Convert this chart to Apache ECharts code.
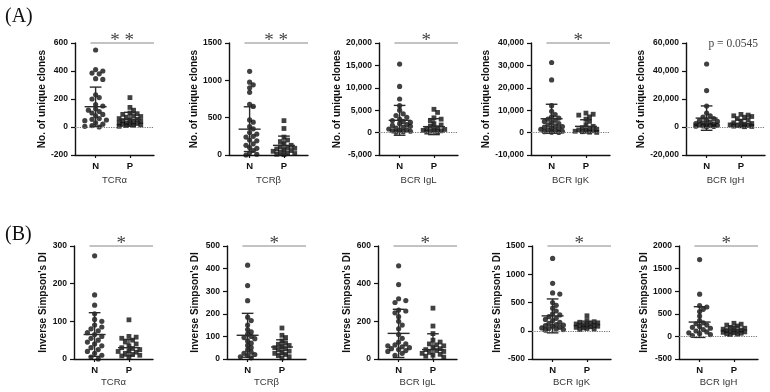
<!DOCTYPE html>
<html>
<head>
<meta charset="utf-8">
<script src="https://cdn.jsdelivr.net/npm/echarts@6/dist/echarts.min.js"></script>
<style>
  html, body { margin: 0; background: #fff; }
  #main { width: 770px; height: 392px; }
</style>
</head>
<body>
<div id="main"></div>
<script>
// groups and panels
const groups = ["N", "P"];
const receptors = ["TCRα", "TCRβ", "BCR IgL", "BCR IgK", "BCR IgH"];
const cloneMarks = ["* *", "* *", "*", "*", "p = 0.0545"];
const diversityMarks = ["*", "*", "*", "*", "*"];

// (A) No. of unique clones
const tcraCloneN = [550, 410, 400, 385, 380, 345, 340, 230, 210, 200, 160, 150, 130, 120, 110, 100, 90, 80, 60, 55, 50, 45, 30, 20, 10, 5, 0];
const tcraCloneP = [210, 140, 120, 100, 95, 90, 80, 75, 70, 60, 55, 50, 45, 40, 35, 30, 28, 25, 20, 18, 15, 12, 10, 5];
const tcrbCloneN = [1120, 975, 940, 900, 840, 680, 650, 470, 440, 380, 350, 300, 280, 250, 240, 200, 190, 150, 130, 100, 90, 60, 30, 10, 0];
const tcrbCloneP = [460, 355, 240, 200, 180, 150, 130, 110, 100, 90, 80, 70, 60, 50, 40, 30, 20, 10, 5];
const iglCloneN = [15300, 10300, 7500, 6000, 5000, 4200, 3800, 3400, 3000, 2700, 2500, 2300, 2000, 1800, 1600, 1400, 1200, 1000, 800, 600, 500, 400, 300, 200, 100];
const iglCloneP = [5200, 4500, 3300, 3000, 2600, 2000, 1700, 1400, 1100, 900, 700, 600, 500, 400, 300, 200, 100];
const igkCloneN = [31300, 23500, 12000, 9500, 8000, 7000, 6500, 6000, 5500, 5000, 4500, 4000, 3500, 3000, 2700, 2400, 2100, 1800, 1500, 1200, 900, 600, 400, 200, 100];
const igkCloneP = [8700, 8200, 7800, 7000, 6000, 5000, 3500, 2800, 2200, 1800, 1500, 1200, 1000, 800, 600, 400, 200, 100];
const ighCloneN = [45000, 26000, 15000, 10000, 8000, 7000, 6000, 5000, 4500, 4000, 3500, 3000, 2500, 2000, 1800, 1500, 1200, 1000, 800, 600, 400, 200];
const ighCloneP = [9000, 8500, 8000, 7500, 7000, 6000, 5000, 4000, 3000, 2500, 2000, 1500, 1200, 1000, 800, 600, 400, 200];
const cloneMeanN = [145, 346, 2740, 6180, 6350];
const cloneSdN = [140, 300, 3330, 6470, 8700];
const cloneMeanP = [55, 129, 1330, 2790, 2590];
const cloneSdP = [50, 124, 1780, 2940, 2800];
const cloneMin = [-200, 0, -5000, -10000, -20000];
const cloneMax = [600, 1500, 20000, 40000, 60000];
const cloneStep = [200, 500, 5000, 10000, 20000];

// (B) Inverse Simpson's DI
const tcraDiN = [274, 170, 143, 120, 105, 100, 90, 85, 80, 75, 70, 65, 60, 55, 50, 45, 40, 35, 30, 25, 20, 15, 10, 5, 0];
const tcraDiP = [104, 60, 58, 55, 50, 45, 40, 35, 30, 28, 25, 22, 20, 18, 15, 12, 10, 8, 5];
const tcrbDiN = [415, 325, 258, 185, 170, 150, 130, 120, 110, 100, 95, 90, 80, 70, 60, 50, 40, 30, 25, 20, 15, 10, 5];
const tcrbDiP = [137, 105, 95, 80, 70, 65, 60, 55, 50, 45, 40, 35, 30, 25, 20, 15, 10, 5];
const iglDiN = [495, 395, 320, 310, 300, 260, 255, 245, 225, 200, 180, 160, 130, 110, 90, 80, 75, 70, 65, 60, 55, 50, 45, 40, 30, 20];
const iglDiP = [270, 175, 135, 100, 90, 80, 75, 70, 60, 55, 50, 45, 40, 35, 30, 25, 20, 15, 10];
const igkDiN = [1280, 840, 670, 650, 500, 450, 400, 350, 300, 280, 250, 220, 200, 180, 150, 130, 110, 100, 90, 80, 60, 50, 40, 30, 20, 10];
const igkDiP = [265, 180, 160, 150, 140, 130, 120, 110, 100, 95, 90, 80, 70, 60, 50, 40, 30, 20];
const ighDiN = [1700, 935, 680, 650, 600, 550, 450, 350, 300, 280, 250, 220, 200, 180, 150, 120, 100, 80, 60, 40, 20];
const ighDiP = [290, 270, 250, 230, 200, 180, 160, 150, 140, 130, 120, 110, 100, 90, 80, 70, 60, 50, 40];
const diMeanN = [65, 105, 136, 263, 317];
const diSdN = [58, 97, 128, 300, 340];
const diMeanP = [30, 53, 50, 110, 148];
const diSdP = [22, 32, 84, 60, 70];
const diMin = [0, 0, 0, -500, -500];
const diMax = [300, 500, 600, 1500, 2000];
const diStep = [100, 100, 200, 500, 500];

// layout
const X_MIN = 0.4, X_MAX = 2.7, GRID_W = 79;
const rowTop = [43, 246];
const rowH = [112, 113];
const lefts = [[75, 229, 379, 531, 686], [74, 227, 378, 532, 679]];
const yNameGap = [[27, 30, 35, 37, 39], [26, 27, 26, 28, 25]];
const xNameGap = [20, 18];
const FONT = '"Liberation Sans", Arial, sans-serif';
const SERIF = '"Liberation Serif", "Times New Roman", serif';

const rows = [
    {
        yName: "No. of unique clones", marks: cloneMarks,
        n: [tcraCloneN, tcrbCloneN, iglCloneN, igkCloneN, ighCloneN],
        p: [tcraCloneP, tcrbCloneP, iglCloneP, igkCloneP, ighCloneP],
        meanN: cloneMeanN, sdN: cloneSdN, meanP: cloneMeanP, sdP: cloneSdP,
        min: cloneMin, max: cloneMax, step: cloneStep
    },
    {
        yName: "Inverse Simpson's DI", marks: diversityMarks,
        n: [tcraDiN, tcrbDiN, iglDiN, igkDiN, ighDiN],
        p: [tcraDiP, tcrbDiP, iglDiP, igkDiP, ighDiP],
        meanN: diMeanN, sdN: diSdN, meanP: diMeanP, sdP: diSdP,
        min: diMin, max: diMax, step: diStep
    }
];

// spread points sideways so they don't overlap too much (simple beeswarm, in pixels)
function swarm(values, center, yMin, yMax, plotH) {
    const unitPx = GRID_W / (X_MAX - X_MIN);
    const r = 4.2, step = 3.6;
    const placed = [];
    const out = [];
    values.slice().sort((a, b) => b - a).forEach(v => {
        const py = (v - yMin) / (yMax - yMin) * plotH;
        let best = 0, bestD = -1;
        for (let k = 0; k < 7; k++) {
            const off = (k % 2 ? 1 : -1) * Math.ceil(k / 2) * step;
            let d = Infinity;
            placed.forEach(q => { d = Math.min(d, Math.hypot(q[0] - off, q[1] - py)); });
            if (d >= r) { best = off; bestD = d; break; }
            if (d > bestD) { bestD = d; best = off; }
        }
        placed.push([best, py]);
        out.push([center + best / unitPx, v]);
    });
    return out;
}

function fmt(v, big) {
    return big ? v.toLocaleString("en-US") : String(v);
}

const chart = echarts.init(document.getElementById("main"));
const grid = [], xAxis = [], yAxis = [], series = [];

rows.forEach((row, r) => {
    receptors.forEach((rec, i) => {
        const g = grid.length;
        const yMin = row.min[i], yMax = row.max[i];
        const big = yMax >= 10000;
        grid.push({ left: lefts[r][i], top: rowTop[r], width: GRID_W, height: rowH[r] });

        xAxis.push({
            gridIndex: g, type: "value", min: X_MIN, max: X_MAX,
            name: rec, nameLocation: "middle", nameGap: xNameGap[r],
            nameTextStyle: { fontFamily: FONT, fontSize: 9.5, color: "#333" },
            axisLine: { onZero: false, lineStyle: { color: "#111", width: 1.4 } },
            axisTick: { show: true, length: 3, customValues: [1, 2], lineStyle: { color: "#111", width: 1.2 } },
            axisLabel: {
                customValues: [1, 2], margin: 6,
                formatter: v => groups[Math.round(v) - 1],
                fontFamily: FONT, fontSize: 9.5, fontWeight: "bold", color: "#111"
            },
            splitLine: { show: false }
        });

        yAxis.push({
            gridIndex: g, type: "value", min: yMin, max: yMax, interval: row.step[i],
            name: row.yName, nameLocation: "middle", nameGap: yNameGap[r][i], nameRotate: 90,
            nameTextStyle: { fontFamily: FONT, fontSize: 10, fontWeight: "bold", color: "#111" },
            axisLine: { show: true, onZero: false, lineStyle: { color: "#111", width: 1.4 } },
            axisTick: { show: true, length: 4, lineStyle: { color: "#111", width: 1.2 } },
            axisLabel: {
                margin: 7, formatter: v => fmt(v, big),
                fontFamily: FONT, fontSize: 8.5, fontWeight: "bold", color: "#111"
            },
            splitLine: { show: false }
        });

        series.push({
            type: "scatter", xAxisIndex: g, yAxisIndex: g,
            symbol: "circle", symbolSize: 5.2, z: 3,
            itemStyle: { color: "#111" },
            data: swarm(row.n[i], 1, yMin, yMax, rowH[r]),
            markLine: yMin < 0 ? {
                silent: true, symbol: "none", label: { show: false },
                lineStyle: { type: "dotted", color: "#777", width: 1.2 },
                data: [{ yAxis: 0 }]
            } : undefined
        });
        series.push({
            type: "scatter", xAxisIndex: g, yAxisIndex: g,
            symbol: "rect", symbolSize: 4.8, z: 3,
            itemStyle: { color: "#111" },
            data: swarm(row.p[i], 2, yMin, yMax, rowH[r])
        });

        // mean +/- SD
        series.push({
            type: "custom", xAxisIndex: g, yAxisIndex: g, z: 4,
            data: [[1, row.meanN[i], row.sdN[i]], [2, row.meanP[i], row.sdP[i]]],
            renderItem: (params, api) => {
                const x = api.value(0), m = api.value(1), s = api.value(2);
                const lo = Math.max(m - s, yMin);
                const pm = api.coord([x, m]);
                const pt = api.coord([x, m + s]);
                const pl = api.coord([x, lo]);
                const hm = api.coord([x + 0.32, m])[0] - pm[0];
                const hc = api.coord([x + 0.17, m])[0] - pm[0];
                const style = { stroke: "#2a2a2a", lineWidth: 1.4 };
                const kids = [
                    { type: "line", shape: { x1: pm[0] - hm, y1: pm[1], x2: pm[0] + hm, y2: pm[1] }, style },
                    { type: "line", shape: { x1: pt[0], y1: pt[1], x2: pl[0], y2: pl[1] }, style },
                    { type: "line", shape: { x1: pt[0] - hc, y1: pt[1], x2: pt[0] + hc, y2: pt[1] }, style }
                ];
                if (m - s > yMin) {
                    kids.push({ type: "line", shape: { x1: pl[0] - hc, y1: pl[1], x2: pl[0] + hc, y2: pl[1] }, style });
                }
                return { type: "group", children: kids };
            }
        });

        // significance bar
        const mark = row.marks[i];
        const isP = mark.startsWith("p");
        series.push({
            type: "custom", xAxisIndex: g, yAxisIndex: g, z: 5,
            data: [[0.85, X_MAX, yMax]],
            renderItem: (params, api) => {
                const a = api.coord([api.value(0), api.value(2)]);
                const b = api.coord([api.value(1), api.value(2)]);
                const cx = (a[0] + b[0]) / 2;
                const kids = [];
                if (isP) {
                    kids.push({
                        type: "text",
                        style: {
                            text: mark, x: cx, y: a[1] + 1, align: "center", verticalAlign: "middle",
                            font: "11.5px " + SERIF, fill: "#444"
                        }
                    });
                } else {
                    kids.push({ type: "line", shape: { x1: a[0], y1: a[1], x2: b[0], y2: b[1] }, style: { stroke: "#888", lineWidth: 1.2 } });
                    kids.push({
                        type: "text",
                        style: {
                            text: mark, x: cx, y: a[1] - 1.5, align: "center", verticalAlign: "middle",
                            font: "19px " + SERIF, fill: "#444"
                        }
                    });
                }
                return { type: "group", children: kids };
            }
        });
    });
});

chart.setOption({
    animation: false,
    backgroundColor: "#fff",
    grid: grid,
    xAxis: xAxis,
    yAxis: yAxis,
    series: series,
    graphic: [
        { type: "text", left: 5, top: 7, style: { text: "(A)", font: "20px " + SERIF, fill: "#111" } },
        { type: "text", left: 5, top: 225, style: { text: "(B)", font: "20px " + SERIF, fill: "#111" } }
    ]
});

window.onresize = function () {
    chart.resize();
};
</script>
</body>
</html>
